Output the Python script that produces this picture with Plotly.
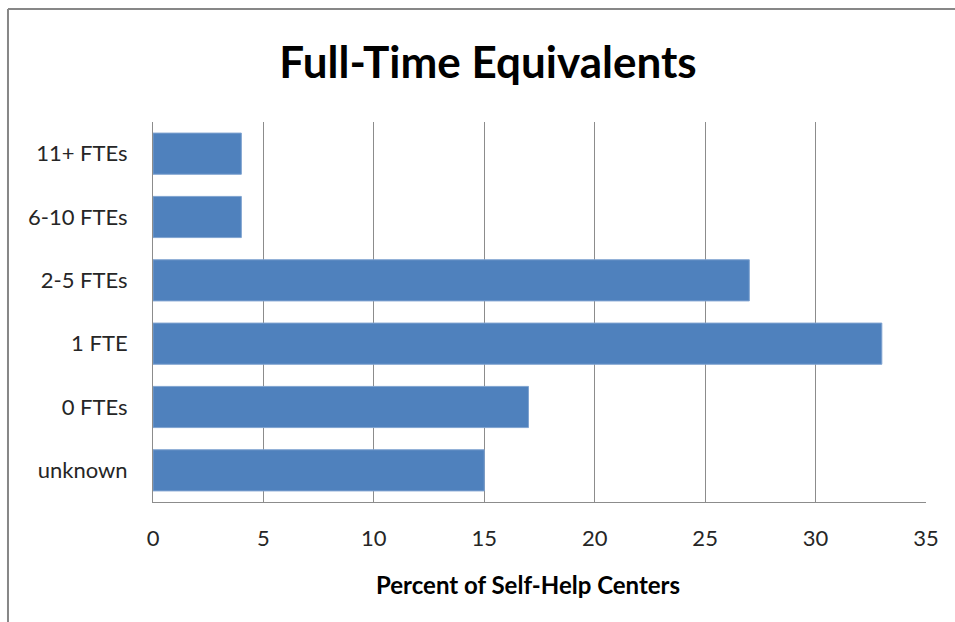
import plotly.graph_objects as go

categories = ["unknown", "0 FTEs", "1 FTE", "2-5 FTEs", "6-10 FTEs", "11+ FTEs"]
percents = [15, 17, 33, 27, 4, 4]
x_ticks = [0, 5, 10, 15, 20, 25, 30, 35]

fig = go.Figure()
fig.add_trace(go.Bar(
    y=categories, x=percents, orientation="h",
    marker=dict(color="#4F81BD", line=dict(color="#7FA3D0", width=1)),
))

fig.update_layout(
    width=955, height=622,
    margin=dict(l=153, r=29, t=122, b=120),
    paper_bgcolor="white", plot_bgcolor="white",
    font=dict(family="Lato", color="#262626"),
    bargap=0.35,
    showlegend=False,
    title=dict(text="<b>Full-Time Equivalents</b>", x=0.511, xanchor="center",
               y=0.9, yanchor="middle",
               font=dict(family="Lato", size=44, color="black")),
    shapes=[
        # outer chart border (top and left visible in the crop)
        dict(type="line", xref="paper", yref="paper", x0=-0.1876, x1=1.1,
             y0=1.2974, y1=1.2974, line=dict(color="#878787", width=2)),
        dict(type="line", xref="paper", yref="paper", x0=-0.1876, x1=-0.1876,
             y0=1.2974, y1=-0.4, line=dict(color="#878787", width=2)),
    ],
    # x axis title, sits a little left of the plot centre in the original
    annotations=[dict(text="<b>Percent of Self-Help Centers</b>", xref="paper", yref="paper",
                      x=0.485, y=-0.216, xanchor="center", yanchor="middle",
                      showarrow=False, font=dict(size=24, color="black"))],
)

fig.update_xaxes(
    range=[0, 35], tickvals=x_ticks,
    showgrid=True, gridcolor="#8C8C8C", gridwidth=1,
    showline=True, linecolor="#8C8C8C", linewidth=1, mirror=False,
    zeroline=False, ticks="", ticklabelstandoff=17,
    tickfont=dict(size=22, color="#262626"),
)
fig.update_yaxes(
    categoryorder="array", categoryarray=categories,
    showgrid=False, showline=True, linecolor="#8C8C8C", linewidth=1,
    ticks="", ticklabelstandoff=20,
    tickfont=dict(size=22, color="#262626"),
)

fig.write_html("out.html", config={"displayModeBar": False},
               post_script="document.body.style.margin='0';")
